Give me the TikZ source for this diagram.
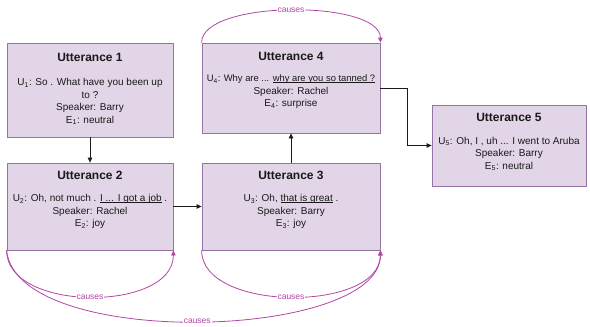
\documentclass[tikz,border=0pt]{standalone}
\usepackage{fontspec}
\setmainfont{Liberation Sans}
\usetikzlibrary{arrows.meta,calc}
\definecolor{boxfill}{HTML}{E1D5E7}
\definecolor{boxdraw}{HTML}{9673A6}
\definecolor{causecol}{HTML}{B146A5}
\definecolor{linecol}{HTML}{1A1A1A}
\newcommand{\myul}[1]{{\setbox0\hbox{#1}\rlap{\rule[-1.3pt]{\wd0}{0.6pt}}\box0}}
\tikzset{
  ubox/.style={draw=boxdraw,fill=boxfill,line width=0.8pt,rectangle,inner sep=0pt},
  utitle/.style={font=\fontsize{12}{14}\selectfont\bfseries,text=linecol,inner sep=0pt,anchor=center},
  ubody/.style={font=\fontsize{10}{12.6}\selectfont,text=linecol,inner sep=0pt,anchor=north,align=center},
  flow/.style={draw=linecol,line width=0.8pt,-{Triangle[length=5pt,width=4.5pt]}},
  cause/.style={draw=causecol,line width=0.8pt,-{Triangle[length=5pt,width=4.5pt]}},
  clabel/.style={font=\fontsize{8.5}{10}\selectfont,text=causecol,fill=white,inner sep=1pt}
}
\begin{document}
\begin{tikzpicture}[x=1pt,y=-1pt]
\useasboundingbox (0,0) rectangle (590,327);
% boxes
\node[ubox,minimum width=166pt,minimum height=94pt] (b1) at (90,90) {};
\node[ubox,minimum width=166pt,minimum height=87pt] (b2) at (90,206.5) {};
\node[ubox,minimum width=178pt,minimum height=87pt] (b3) at (291,206.5) {};
\node[ubox,minimum width=178pt,minimum height=90pt] (b4) at (291,88) {};
\node[ubox,minimum width=154pt,minimum height=81pt] (b5) at (509,145.5) {};
% titles
\node[utitle] (t1) at ($(b1.north)+(0,14.5)$) {Utterance 1};
\node[utitle] (t2) at ($(b2.north)+(0,13)$) {Utterance 2};
\node[utitle] (t3) at ($(b3.north)+(0,13)$) {Utterance 3};
\node[utitle] (t4) at ($(b4.north)+(0,14)$) {Utterance 4};
\node[utitle] (t5) at ($(b5.north)+(0,13)$) {Utterance 5};
% bodies
\node[ubody] (x1) at ($(b1.north)+(0,35.5)$) {U\textsubscript{1}: So . What have you been up\\to ?\\Speaker: Barry\\E\textsubscript{1}: neutral};
\node[ubody] (x2) at ($(b2.north)+(0,31.5)$) {U\textsubscript{2}: Oh, not much . \myul{I ... I got a job} .\\Speaker: Rachel\\E\textsubscript{2}: joy};
\node[ubody] (x3) at ($(b3.north)+(0,31.5)$) {U\textsubscript{3}: Oh, \myul{that is great} .\\Speaker: Barry\\E\textsubscript{3}: joy};
\node[ubody] (x4) at ($(b4.north)+(0,32)$) {{\fontsize{9.4}{12.6}\selectfont U\textsubscript{4}: Why are ... \myul{why are you so tanned ?}}\\Speaker: Rachel\\E\textsubscript{4}: surprise};
\node[ubody] (x5) at ($(b5.north)+(0,32)$) {U\textsubscript{5}: Oh, I , uh ... I went to Aruba\\Speaker: Barry\\E\textsubscript{5}: neutral};
% flow connectors
\draw[flow] (b1.south) -- (b2.north);
\draw[flow] (b2.east) -- (b3.west);
\draw[flow] (b3.north) -- (b4.south);
\draw[flow] (b4.east) -- ++(27,0) |- (b5.west);
% cause curves
\draw[cause] (b4.north west) .. controls ($(b4.north west)+(0,-43)$) and ($(b4.north east)+(0,-43)$) .. node[clabel,pos=0.5] (l4) {causes} (b4.north east);
\draw[cause] (b2.south west) .. controls ($(b2.south west)+(0,62)$) and ($(b2.south east)+(0,62)$) .. node[clabel,pos=0.5] (l2) {causes} (b2.south east);
\draw[cause] (b3.south west) .. controls ($(b3.south west)+(0,62)$) and ($(b3.south east)+(0,62)$) .. node[clabel,pos=0.5] (l3) {causes} (b3.south east);
\draw[cause] (b2.south west) .. controls ($(b2.south west)+(10,100)$) and ($(b3.south east)+(0,90)$) .. node[clabel,pos=0.5] (l23) {causes} (b3.south east);
\end{tikzpicture}
\end{document}
